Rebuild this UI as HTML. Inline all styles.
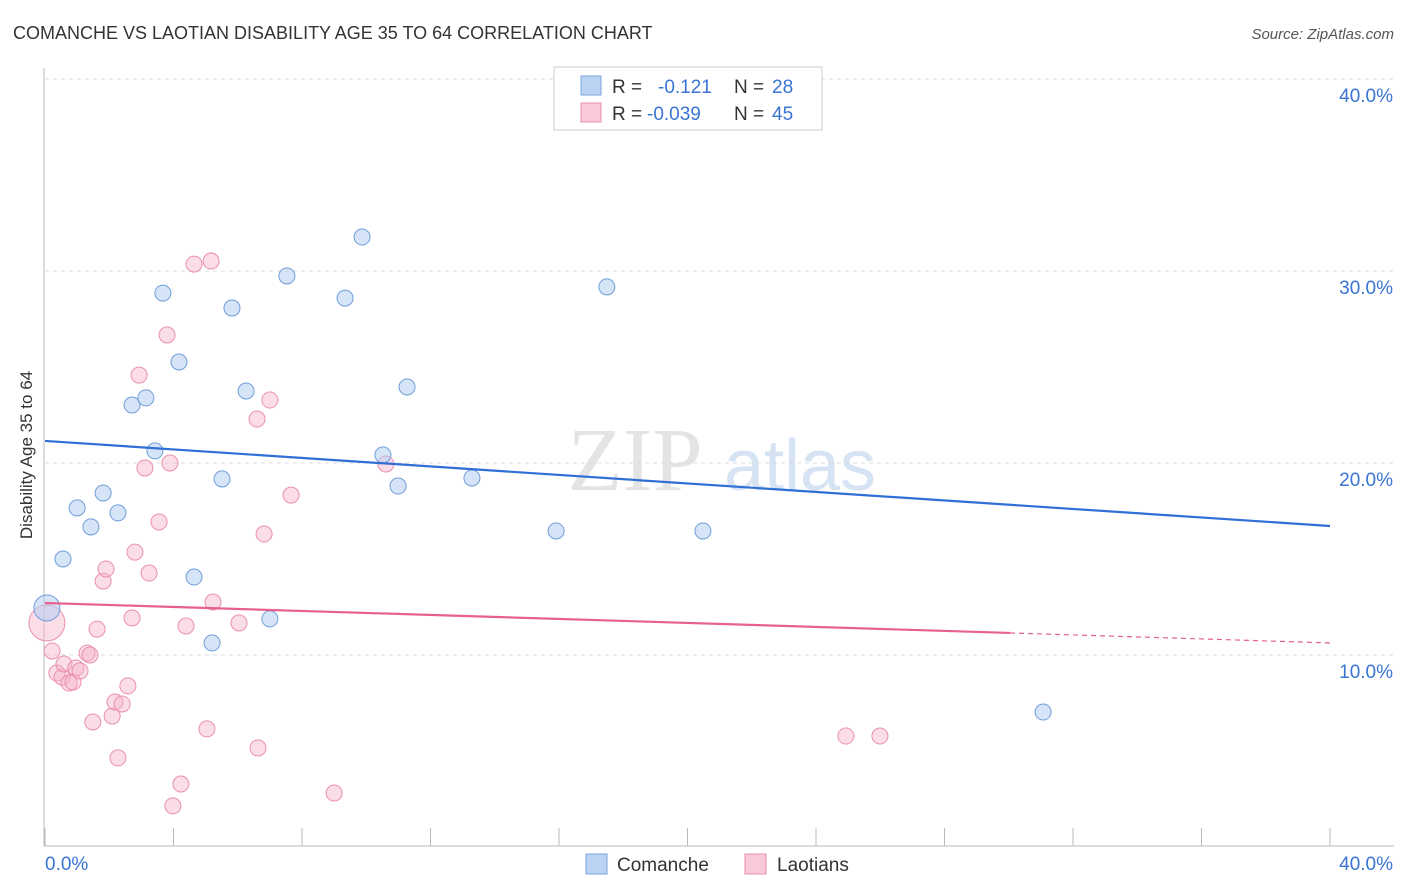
<!DOCTYPE html>
<html><head><meta charset="utf-8">
<style>
body{margin:0;background:#fff;font-family:"Liberation Sans",sans-serif;}
#wrap{position:relative;width:1406px;height:892px;overflow:hidden;}
</style></head>
<body>
<div id="wrap">
<svg id="chart" width="1406" height="892" xmlns="http://www.w3.org/2000/svg">
<text x="13" y="39" font-size="18" fill="#333">COMANCHE VS LAOTIAN DISABILITY AGE 35 TO 64 CORRELATION CHART</text>
<text x="1394" y="39" font-size="15" fill="#555" font-style="italic" text-anchor="end">Source: ZipAtlas.com</text>
<text x="32" y="455" font-size="17" fill="#333" text-anchor="middle" transform="rotate(-90 32 455)">Disability Age 35 to 64</text>
<text x="635" y="490" font-size="90" fill="#e4e4e4" text-anchor="middle" font-family="Liberation Serif,serif">ZIP</text>
<text x="800" y="490" font-size="72" fill="#d5e3f3" text-anchor="middle">atlas</text>
<g id="grid"></g><g id="marks"></g>
<g>
<rect x="554" y="67" width="268" height="63" fill="#fff" stroke="#ccc"/>
<rect x="581" y="76" width="20" height="19" fill="#bcd4f4" stroke="#7aa6e0"/>
<text x="612" y="93" font-size="19" fill="#333">R =</text><text x="658" y="93" font-size="19" fill="#3a74d4">-0.121</text>
<text x="734" y="93" font-size="19" fill="#333">N =</text><text x="772" y="93" font-size="19" fill="#3a74d4">28</text>
<rect x="581" y="103" width="20" height="19" fill="#f9c9d8" stroke="#ea8fae"/>
<text x="612" y="120" font-size="19" fill="#333">R =</text><text x="647" y="120" font-size="19" fill="#3a74d4">-0.039</text>
<text x="734" y="120" font-size="19" fill="#333">N =</text><text x="772" y="120" font-size="19" fill="#3a74d4">45</text>
</g>
<g>
<rect x="586" y="854" width="21" height="20" fill="#bcd4f4" stroke="#7aa6e0"/>
<text x="617" y="871" font-size="19" fill="#333">Comanche</text>
<rect x="745" y="854" width="21" height="20" fill="#f9c9d8" stroke="#ea8fae"/>
<text x="777" y="871" font-size="19" fill="#333">Laotians</text>
</g>
</svg>
</div>
<script>
const blueX=[0.06,0.56,1.0,1.43,1.81,2.27,2.71,3.14,3.42,3.67,4.17,4.64,5.2,5.51,5.82,6.26,7.0,7.53,9.34,9.87,10.52,10.99,11.27,13.29,15.91,17.49,20.48,31.07];
const blueY=[12.45,15.0,17.66,16.67,18.44,17.4,23.02,23.39,20.63,28.85,25.26,14.06,10.63,19.17,28.07,23.75,11.88,29.74,28.59,31.77,20.42,18.8,23.96,19.22,16.46,29.17,16.46,7.03];
const pinkX=[0.06,0.22,0.37,0.53,0.59,0.75,0.87,0.96,1.09,1.31,1.4,1.49,1.62,1.81,1.9,2.09,2.18,2.27,2.4,2.58,2.71,2.8,2.93,3.11,3.24,3.55,3.8,3.89,3.98,4.23,4.39,4.64,5.04,5.17,5.23,6.04,6.6,6.63,6.82,7.0,7.66,9.0,10.61,24.93,25.99];
const pinkY=[11.67,10.21,9.06,8.85,9.53,8.54,8.59,9.32,9.17,10.1,10.0,6.51,11.35,13.85,14.48,6.82,7.55,4.64,7.45,8.39,11.93,15.36,24.58,19.74,14.27,16.93,26.67,20.0,2.14,3.28,11.51,30.36,6.15,30.52,12.76,11.67,22.29,5.16,16.3,23.28,18.33,2.81,19.95,5.78,5.78];
const blueTrend=[21.15,16.72];
const pinkTrend=[12.71,10.63];
const pinkSolidEnd=30.04;
const yTicks=[10,20,30,40];
const yTickLabels=["10.0%","20.0%","30.0%","40.0%"];
const xTicks=[0,4,8,12,16,20,24,28,32,36,40];

const NS="http://www.w3.org/2000/svg";
const sx=v=>45+v/40*1285;
const sy=v=>847-v*19.2;
function mk(tag,attrs,parent){const e=document.createElementNS(NS,tag);for(const k in attrs)e.setAttribute(k,attrs[k]);parent.appendChild(e);return e;}
const grid=document.getElementById('grid'),marks=document.getElementById('marks'),svg=document.getElementById('chart');
yTicks.forEach((t,i)=>{
 const l=mk('line',{x1:45,x2:1394,y1:sy(t),y2:sy(t),stroke:'#ddd','stroke-dasharray':'4,4'},grid);
 
 
 const tx=mk('text',{x:1393,y:sy(t)+23,'font-size':19,fill:'#3a74d4','text-anchor':'end'},svg);
 tx.textContent=yTickLabels[i];
 
 
});
const ax=mk('line',{x1:44,x2:44,y1:68,y2:846,stroke:'#bbb'},grid);


const bx=mk('line',{x1:44,x2:1394,y1:846,y2:846,stroke:'#bbb'},grid);


xTicks.forEach(t=>{
 const l=mk('line',{x1:sx(t),x2:sx(t),y1:828,y2:846,stroke:'#bbb'},grid);
 
 
});
const xl0=mk('text',{x:45,y:870,'font-size':19,fill:'#3a74d4'},svg);xl0.textContent="0.0%";


const xl1=mk('text',{x:1393,y:870,'font-size':19,fill:'#3a74d4','text-anchor':'end'},svg);xl1.textContent="40.0%";



pinkX.forEach((x,i)=>{
 const c=mk('circle',{cx:sx(x),cy:sy(pinkY[i]),r:i===0?18:8,fill:'rgba(246,180,202,0.45)',stroke:'#ea8fae','stroke-width':1},marks);
 
 
});
blueX.forEach((x,i)=>{
 const c=mk('circle',{cx:sx(x),cy:sy(blueY[i]),r:i===0?13:8,fill:'rgba(180,205,240,0.55)',stroke:'#6f9ed9','stroke-width':1},marks);
 
 
});
const bt=mk('line',{x1:sx(0),y1:sy(blueTrend[0]),x2:sx(40),y2:sy(blueTrend[1]),stroke:'#2f6fd6','stroke-width':2.2},marks);


const pe=pinkTrend[0]+(pinkTrend[1]-pinkTrend[0])*pinkSolidEnd/40;
const pt=mk('line',{x1:sx(0),y1:sy(pinkTrend[0]),x2:sx(pinkSolidEnd),y2:sy(pe),stroke:'#e8608e','stroke-width':2.2},marks);


const pd=mk('line',{x1:sx(pinkSolidEnd),y1:sy(pe),x2:sx(40),y2:sy(pinkTrend[1]),stroke:'#e8608e','stroke-width':1.2,'stroke-dasharray':'5,4'},marks);


</script>
</body></html>
